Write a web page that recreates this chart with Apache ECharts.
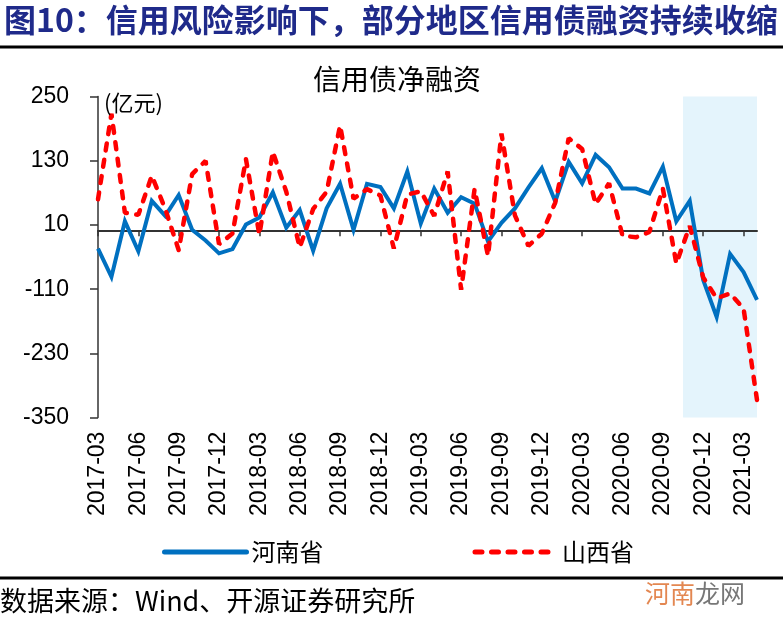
<!DOCTYPE html>
<html><head><meta charset="utf-8">
<script src="https://cdn.jsdelivr.net/npm/echarts@6/dist/echarts.min.js"></script>
<style>html,body{margin:0;padding:0;background:#fff}#c{width:783px;height:620px}</style>
</head><body><div id="c"></div>
<script>
const months = [
  '2017-03','2017-04','2017-05','2017-06','2017-07','2017-08','2017-09','2017-10','2017-11','2017-12',
  '2018-01','2018-02','2018-03','2018-04','2018-05','2018-06','2018-07','2018-08','2018-09','2018-10','2018-11','2018-12',
  '2019-01','2019-02','2019-03','2019-04','2019-05','2019-06','2019-07','2019-08','2019-09','2019-10','2019-11','2019-12',
  '2020-01','2020-02','2020-03','2020-04','2020-05','2020-06','2020-07','2020-08','2020-09','2020-10','2020-11','2020-12',
  '2021-01','2021-02','2021-03','2021-04'
];
const henan = [
  -34, -87, 17, -39, 55, 27, 66, 1, -19, -43,
  -35, 11, 24, 71, 5, 38, -38, 41, 87, 1, 87, 81,
  41, 110, 13, 78, 33, 62, 50, -21, 14, 41, 80, 116,
  54, 128, 88, 141, 118, 78, 78, 69, 119, 17, 55, -93,
  -162, -44, -78, -130
];
const shanxi = [
  58, 218, 33, 29, 102, 40, -37, 105, 130, -26,
  -6, 133, -8, 147, 72, -32, 40, 72, 196, 59, 77, 65,
  -34, 67, 73, 27, 110, -111, 77, -48, 181, 28, -29, -6,
  52, 172, 152, 49, 88, -10, -13, -3, 78, -62, 8, -88,
  -127, -118, -146, -317
];
const yTicks = [-350, -230, -110, 10, 130, 250];
const seriesNames = ['河南省', '山西省'];
const shadeFrom = '2020-10', shadeTo = '2021-04';

const FONT_NUM = '"Liberation Sans", Arial, sans-serif';
const FONT_CJK = '"Noto Sans CJK SC", sans-serif';

const chart = echarts.init(document.getElementById('c'), null, {renderer: 'canvas'});
const labelInterval = 2;
const shadeA = months.indexOf(shadeFrom) + 0.5;
const shadeB = months.indexOf(shadeTo) + 0.5;

chart.setOption({
  animation: false,
  backgroundColor: '#fff',
  grid: {left: 98, top: 96.6, width: 659, height: 321, containLabel: false},
  xAxis: [
    {
      type: 'category', data: months, boundaryGap: false, z: 1,
      axisLine: {onZero: true, lineStyle: {color: '#333', width: 2}},
      axisTick: {show: true, interval: labelInterval, length: 6, inside: false, lineStyle: {color: '#333', width: 1.5}},
      axisLabel: {show: false},
      splitLine: {show: false}
    },
    {
      type: 'category', data: months, boundaryGap: false, position: 'bottom',
      axisLine: {show: false, onZero: false},
      axisTick: {show: false},
      axisLabel: {show: true, interval: labelInterval, rotate: 90, margin: 14,
        fontFamily: FONT_NUM, fontSize: 23, color: '#000'},
      splitLine: {show: false}
    },
    {
      type: 'value', show: false, min: 0, max: months.length - 1
    }
  ],
  yAxis: {
    type: 'value', min: yTicks[0], max: yTicks[yTicks.length - 1], interval: yTicks[1] - yTicks[0], z: 1,
    axisLine: {show: true, onZero: false, lineStyle: {color: '#333', width: 1.5}},
    axisTick: {show: true, length: 8, lineStyle: {color: '#333', width: 1.5}},
    axisLabel: {margin: 29, fontFamily: FONT_NUM, fontSize: 23, color: '#000'},
    splitLine: {show: false}
  },
  legend: {
    left: 157, top: 535, itemWidth: 82, itemHeight: 14, itemGap: 149,
    data: seriesNames,
    itemStyle: {opacity: 0, color: 'transparent', borderWidth: 0},
    lineStyle: {width: 5, cap: 'round'},
    textStyle: {fontFamily: FONT_CJK, fontSize: 24, color: '#000'}
  },
  series: [
    {
      type: 'line', xAxisIndex: 2, data: [], silent: true, clip: false, z: 0,
      markArea: {silent: true, itemStyle: {color: '#E4F4FC'},
        data: [[{coord: [shadeA, 255]}, {coord: [shadeB, -368]}]]}
    },
    {
      name: seriesNames[0], type: 'line', data: henan, xAxisIndex: 0, symbol: 'none', z: 3,
      lineStyle: {color: '#0070C0', width: 4, join: 'miter'}, itemStyle: {color: '#0070C0'}
    },
    {
      name: seriesNames[1], type: 'line', data: shanxi, xAxisIndex: 0, symbol: 'none', z: 4,
      lineStyle: {color: '#FF0000', width: 4.5, type: [7, 9.5], cap: 'round'}, itemStyle: {color: '#FF0000'}
    }
  ],
  graphic: [
    {type: 'text', z: 10, style: {x: 4, y: 20, text: '图10：信用风险影响下，部分地区信用债融资持续收缩',
      font: 'bold 32px ' + FONT_CJK, fill: '#1F2A8A', textVerticalAlign: 'middle'}},
    {type: 'rect', z: 10, shape: {x: 0, y: 45.5, width: 783, height: 3}, style: {fill: '#000'}},
    {type: 'text', z: 10, style: {x: 397, y: 79, text: '信用债净融资', font: '28px ' + FONT_CJK,
      fill: '#000', textAlign: 'center', textVerticalAlign: 'middle'}},
    {type: 'text', z: 10, style: {x: 104, y: 103, text: '(亿元)', font: '22px ' + FONT_CJK,
      fill: '#000', textVerticalAlign: 'middle'}},
    {type: 'rect', z: 10, shape: {x: 0, y: 576.5, width: 783, height: 3}, style: {fill: '#000'}},
    {type: 'text', z: 10, style: {x: 0, y: 601, text: '数据来源：Wind、开源证券研究所', font: '27px ' + FONT_CJK,
      fill: '#000', textVerticalAlign: 'middle'}},
    {type: 'text', z: 10, style: {x: 645, y: 593, text: '河南', font: '25px ' + FONT_CJK,
      fill: '#E07A3E', opacity: 0.9, textVerticalAlign: 'middle'}},
    {type: 'text', z: 10, style: {x: 695, y: 593, text: '龙网', font: '25px ' + FONT_CJK,
      fill: '#555', opacity: 0.8, textVerticalAlign: 'middle'}}
  ]
});
</script></body></html>
